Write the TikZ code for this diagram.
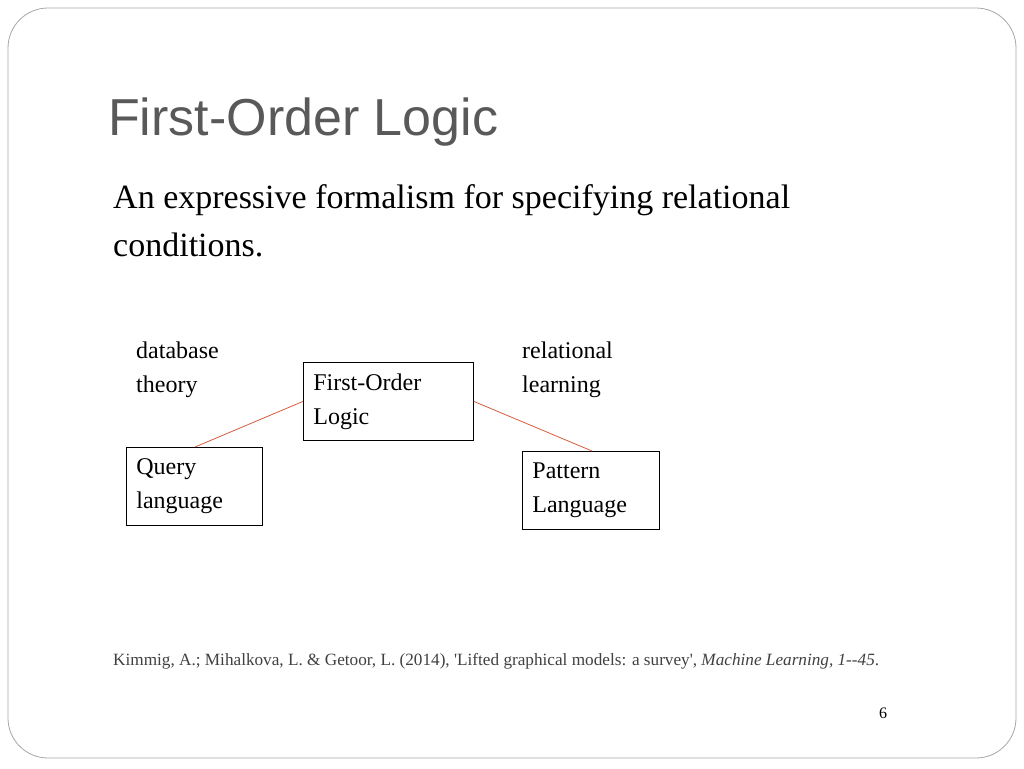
\documentclass[tikz,border=0pt]{standalone}
\usepackage{fontspec}
\setmainfont{Liberation Serif}
\newfontfamily\titlefont{Liberation Sans}
\definecolor{edgered}{RGB}{214,92,58}
\begin{document}
\begin{tikzpicture}[x=1pt,y=-1pt,
	box/.style={draw, thick, anchor=north west, align=left, inner sep=0pt, inner xsep=10pt, font=\fontsize{24}{34}\selectfont},
	lbl/.style={anchor=north west, align=left, inner sep=0pt, font=\fontsize{24}{34}\selectfont}]
	\useasboundingbox (0,0) rectangle (1024,768);
	\draw[gray!70, thick, rounded corners=40pt] (8,8) rectangle (1016,758);
	
	\node[anchor=base west, inner sep=0pt, text=black!65] (title) at (108,135) {\titlefont\fontsize{52}{56}\selectfont First-Order Logic};
	\node[anchor=north west, inner sep=0pt, align=left, font=\fontsize{34}{48}\selectfont] (intro) at (113,184) {An expressive formalism for specifying relational\\conditions.};
	
	\node[lbl] (db) at (136,342) {database\\theory};
	\node[lbl] (rl) at (522,342) {relational\\learning};
	\node[box, minimum width=170pt, minimum height=78pt, text width=150pt] (fol) at (303,362) {First-Order\\Logic};
	\node[box, minimum width=136pt, minimum height=78pt, text width=116pt] (query) at (126,447) {Query\\language};
	\node[box, minimum width=137pt, minimum height=78pt, text width=117pt] (pattern) at (522,451) {Pattern\\Language};
	
	\coordinate (qtop) at (195,447);
	\coordinate (ptop) at (592,451);
	\draw[edgered, thick] (fol.west) -- (qtop);
	\draw[edgered, thick] (fol.east) -- (ptop);
	
	\node[anchor=base west, inner sep=0pt, text=black!75, font=\fontsize{17.2}{18}\selectfont] (cite) at (113,665) {Kimmig, A.; Mihalkova, L. \& Getoor, L. (2014), \textquotesingle Lifted graphical models: a survey\textquotesingle, \textit{Machine Learning, 1-{}-45}.};
	\node[anchor=base, inner sep=0pt, font=\fontsize{16}{18}\selectfont] (page) at (883,718) {6};
\end{tikzpicture}
\end{document}
